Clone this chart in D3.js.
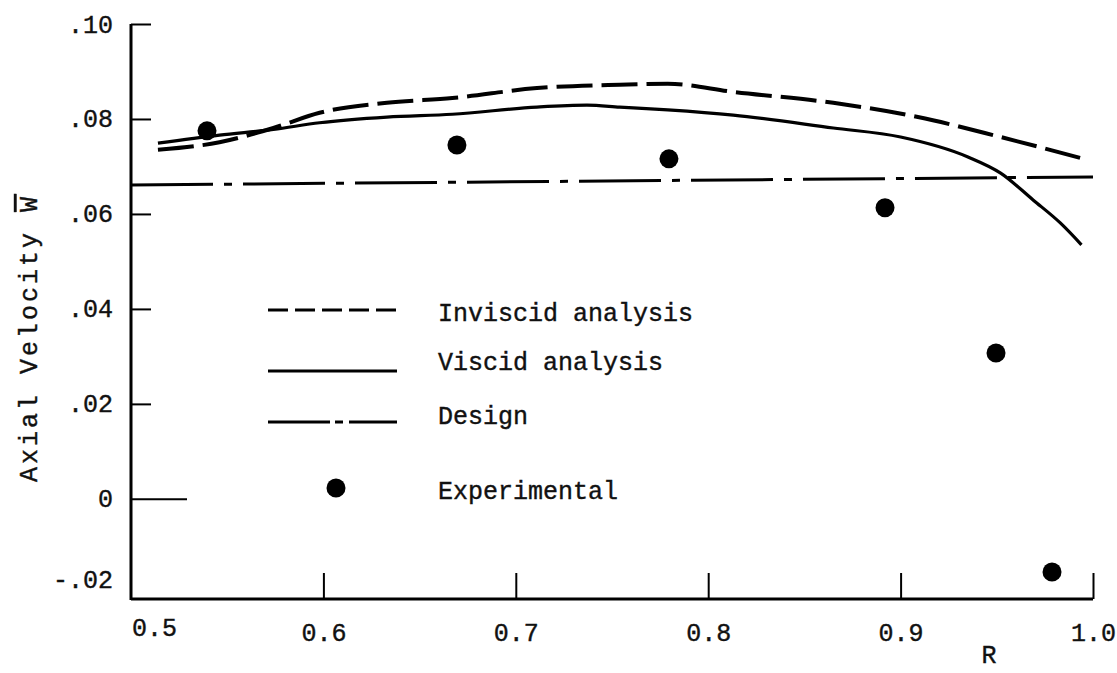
<!DOCTYPE html>
<html lang="en">
	<head>
		<meta charset="utf-8">
		<title>Axial velocity vs R</title>
		<script type="text/javascript" src="https://cdn.jsdelivr.net/npm/d3@7"></script>
		<style type="text/css">
			body { margin: 0; background: #fff; }
			text {
				font-family: "Liberation Mono", "Courier New", monospace;
				font-size: 25px;
				fill: #111;
				stroke: #111;
				stroke-width: 0.4px;
			}
			.axisLine { stroke: #000; stroke-width: 3; fill: none; }
			.tick line { stroke: #000; stroke-width: 2; }
			.inviscid { fill: none; stroke: #000; stroke-width: 4; stroke-dasharray: 36, 9; }
			.viscid { fill: none; stroke: #000; stroke-width: 3.2; }
			.design { fill: none; stroke: #000; stroke-width: 3; stroke-dasharray: 82, 11, 8, 11; }
			.dot { fill: #000; }
		</style>
	</head>
	<body>
		<script type="text/javascript">

			//Width and height
			var w = 1117;
			var h = 673;

			//Inviscid analysis (dashed)
			var inviscidR = [0.514, 0.546, 0.574, 0.598, 0.633, 0.667, 0.711, 0.754, 0.779, 0.813, 0.865, 0.909, 0.952, 0.997];
			var inviscidW = [0.0735, 0.0751, 0.0781, 0.0813, 0.0834, 0.0844, 0.0865, 0.0872, 0.0874, 0.0857, 0.0834, 0.0804, 0.0762, 0.0714];

			//Viscid analysis (solid)
			var viscidR = [0.514, 0.546, 0.574, 0.598, 0.633, 0.667, 0.711, 0.737, 0.754, 0.779, 0.813, 0.865, 0.900, 0.935, 0.952, 0.969, 0.983, 0.994];
			var viscidW = [0.0749, 0.0766, 0.0778, 0.0792, 0.0804, 0.0810, 0.0825, 0.0829, 0.0825, 0.0819, 0.0808, 0.0781, 0.0762, 0.0720, 0.0686, 0.0629, 0.0581, 0.0535];

			//Design (dash-dot)
			var designR = [0.5, 1.0];
			var designW = [0.0661, 0.0678];

			//Experimental points
			var expR = [0.5395, 0.6694, 0.7796, 0.8919, 0.9496, 0.9787];
			var expW = [0.0775, 0.0745, 0.0716, 0.0613, 0.0307, -0.0154];

			//Axis ticks
			var xTicks = [0.5, 0.6, 0.7, 0.8, 0.9, 1.0];
			var xTickLabels = ["0.5", "0.6", "0.7", "0.8", "0.9", "1.0"];
			var yTicks = [0.10, 0.08, 0.06, 0.04, 0.02, 0, -0.02];
			var yTickLabels = [".10", ".08", ".06", ".04", ".02", "0", "-.02"];

			//Legend entries
			var legendNames = ["Inviscid analysis", "Viscid analysis", "Design", "Experimental"];
			var legendKinds = ["inviscid", "viscid", "design", "dot"];

			//Scales
			var xScale = d3.scaleLinear().domain([0.5, 1.0]).range([131, 1093]);
			var yScale = d3.scaleLinear().domain([-0.0213, 0.10]).range([600, 24]);

			var svg = d3.select("body")
						.append("svg")
						.attr("width", w)
						.attr("height", h);

			//X axis, ticks pointing up
			var xAxis = d3.axisBottom(xScale)
						.tickValues(xTicks.slice(1))
						.tickSizeInner(-26)
						.tickSizeOuter(0)
						.tickFormat(function(d) { return xTickLabels[xTicks.indexOf(d)]; });

			var gx = svg.append("g")
						.attr("transform", "translate(0,599)")
						.call(xAxis);
			gx.select(".domain").remove();
			gx.selectAll(".tick text")
				.attr("y", 24)
				.attr("dy", "0.71em")
				.attr("font-size", null);

			svg.append("line")
				.attr("class", "axisLine")
				.attr("x1", xScale(0.5))
				.attr("x2", xScale(1.0))
				.attr("y1", 599)
				.attr("y2", 599);

			//0.5 label sits at the corner, start aligned
			svg.append("text")
				.attr("x", xScale(0.5) + 1)
				.attr("y", 636)
				.text(xTickLabels[0]);

			//Y axis, ticks pointing right
			var yAxis = d3.axisLeft(yScale)
						.tickValues(yTicks.slice(0, 6))
						.tickSizeInner(-20)
						.tickSizeOuter(0)
						.tickFormat(function(d) { return yTickLabels[yTicks.indexOf(d)]; });

			var gy = svg.append("g")
						.attr("transform", "translate(131,0)")
						.call(yAxis);
			gy.select(".domain").remove();
			gy.selectAll(".tick text")
				.attr("x", -18)
				.attr("font-size", null);
			gy.selectAll(".tick line")
				.attr("x2", function(d) { return d === 0 ? 56 : 20; });

			svg.append("text")
				.attr("x", 113)
				.attr("y", yScale(-0.02) - 14)
				.attr("dy", "0.32em")
				.attr("text-anchor", "end")
				.text(yTickLabels[6]);

			svg.append("line")
				.attr("class", "axisLine")
				.attr("x1", 131)
				.attr("x2", 131)
				.attr("y1", yScale(0.10))
				.attr("y2", 600);

			//Axis titles
			var yTitle = svg.append("text")
				.attr("transform", "translate(37,338) rotate(-90)")
				.attr("text-anchor", "middle")
				.style("letter-spacing", "3px");
			yTitle.append("tspan").text("Axial Velocity ");
			yTitle.append("tspan").style("text-decoration", "overline").text("W");

			svg.append("text")
				.attr("x", 989)
				.attr("y", 663)
				.attr("text-anchor", "middle")
				.text("R");

			//Line generator
			var line = d3.line()
						.x(function(d) { return xScale(d[0]); })
						.y(function(d) { return yScale(d[1]); })
						.curve(d3.curveMonotoneX);

			svg.append("path")
				.datum(d3.zip(designR, designW))
				.attr("class", "design")
				.attr("d", line);

			svg.append("path")
				.datum(d3.zip(inviscidR, inviscidW))
				.attr("class", "inviscid")
				.attr("d", line);

			svg.append("path")
				.datum(d3.zip(viscidR, viscidW))
				.attr("class", "viscid")
				.attr("d", line);

			svg.selectAll(".dot")
				.data(d3.zip(expR, expW))
				.enter()
				.append("circle")
				.attr("class", "dot")
				.attr("cx", function(d) { return xScale(d[0]); })
				.attr("cy", function(d) { return yScale(d[1]); })
				.attr("r", 9.5);

			//Legend
			var legendY = [310, 371, 422, 488];
			var legend = svg.selectAll(".legend")
						.data(legendNames)
						.enter()
						.append("g")
						.attr("class", "legend")
						.attr("transform", function(d, i) { return "translate(0," + legendY[i] + ")"; });

			legend.each(function(d, i) {
				var g = d3.select(this);
				var kind = legendKinds[i];
				if (kind === "dot") {
					g.append("circle").attr("class", "dot").attr("cx", 336).attr("cy", 0).attr("r", 9.5);
				} else {
					var l = g.append("line")
						.attr("class", kind)
						.attr("x1", 268).attr("x2", 397)
						.attr("y1", 0).attr("y2", 0);
					if (kind === "inviscid") l.style("stroke-dasharray", "20,7").style("stroke-width", 3);
					if (kind === "design") l.style("stroke-dasharray", "62,5,8,6");
				}
				g.append("text")
					.attr("x", 438)
					.attr("y", kind === "viscid" ? -9 : (kind === "design" ? -6 : 3))
					.attr("dy", "0.32em")
					.text(d);
			});

		</script>
	</body>
</html>
